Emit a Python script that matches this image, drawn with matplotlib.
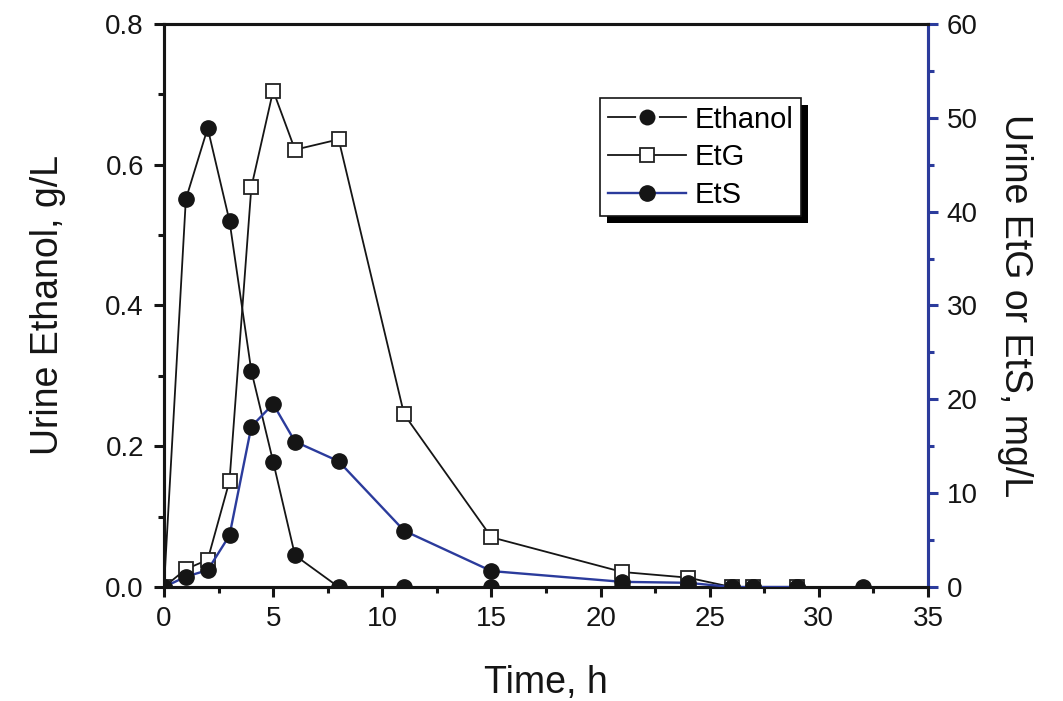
import numpy as np
import matplotlib.pyplot as plt
from matplotlib.ticker import MultipleLocator
from matplotlib.lines import Line2D
import matplotlib.patheffects as pe

plt.rcParams['font.family'] = ['Liberation Sans', 'DejaVu Sans']

# time points, h
t_eth = [0, 1, 2, 3, 4, 5, 6, 8, 11, 15, 21, 24, 26, 27, 29, 32]
ethanol = [0, 0.551, 0.652, 0.52, 0.307, 0.178, 0.045, 0, 0, 0, 0, 0, 0, 0, 0, 0]

t_met = [0, 1, 2, 3, 4, 5, 6, 8, 11, 15, 21, 24, 26, 27, 29]
etg = [0, 1.9, 2.9, 11.3, 42.6, 52.9, 46.6, 47.7, 18.4, 5.3, 1.6, 1.0, 0, 0, 0]
ets = [0, 1.1, 1.8, 5.5, 17.1, 19.5, 15.5, 13.4, 6.0, 1.7, 0.55, 0.45, 0, 0, 0]

blue = '#2b3b9c'
dark = '#151515'

fig = plt.figure(figsize=(10.63, 7.01), dpi=100)
ax = fig.add_axes([0.1543, 0.1626, 0.873 - 0.1543, 0.9658 - 0.1626])
ax2 = ax.twinx()

l1, = ax.plot(t_eth, ethanol, '-', color=dark, lw=1.3, marker='o', ms=11,
              mfc=dark, mec=dark, zorder=3)
l2, = ax2.plot(t_met, etg, '-', color=dark, lw=1.3, marker='s', ms=9.5,
               mfc='white', mec='#222222', mew=1.3, zorder=3)
l3, = ax2.plot(t_met, ets, '-', color=blue, lw=1.7, marker='o', ms=11,
               mfc=dark, mec=dark, zorder=4)

ax.set_xlim(0, 35)
ax.set_ylim(0, 0.8)
ax2.set_ylim(0, 60)

ax.xaxis.set_major_locator(MultipleLocator(5))
ax.xaxis.set_minor_locator(MultipleLocator(2.5))
ax.yaxis.set_major_locator(MultipleLocator(0.2))
ax.yaxis.set_minor_locator(MultipleLocator(0.1))
ax2.yaxis.set_major_locator(MultipleLocator(10))
ax2.yaxis.set_minor_locator(MultipleLocator(5))
ax.yaxis.set_major_formatter(plt.FormatStrFormatter('%.1f'))

for a in (ax, ax2):
    for s in a.spines.values():
        s.set_linewidth(2.2)
        s.set_color(dark)
ax2.spines['right'].set_color(blue)

ax.tick_params(which='major', direction='out', length=7.5, width=2.2, labelsize=20,
               colors=dark)
ax.tick_params(which='minor', direction='out', length=4.5, width=2.2, colors=dark)
ax.tick_params(axis='x', pad=6)
ax.tick_params(axis='y', pad=7)
ax2.tick_params(which='major', direction='out', length=7.5, width=2.2, labelsize=20,
                colors=blue, labelcolor=dark, pad=6)
ax2.tick_params(which='minor', direction='out', length=4.5, width=2.2, colors=blue)

ax.set_xlabel('Time, h', fontsize=27, labelpad=24, color=dark)
ax.set_ylabel('Urine Ethanol, g/L', fontsize=27, labelpad=28, color=dark)
ax2.set_ylabel('Urine EtG or EtS, mg/L', fontsize=27, rotation=270, labelpad=40,
               color=dark)

# legend: ethanol symbol drawn with a small gap around the dot
h1 = Line2D([], [], color=dark, lw=1.3, marker='o', ms=14, mfc=dark,
            mec='white', mew=2.5)
leg = ax2.legend([h1, l2, l3], ['Ethanol', 'EtG', 'EtS'], loc='upper left',
                 bbox_to_anchor=(0.571, 0.868), borderaxespad=0, fontsize=21,
                 frameon=True, fancybox=False, edgecolor=dark,
                 handlelength=2.7, borderpad=0.25, labelspacing=0.33,
                 handletextpad=0.3)
frame = leg.get_frame()
frame.set_linewidth(1.2)
frame.set_alpha(1)
frame.set_path_effects([pe.SimplePatchShadow(offset=(5, -5), shadow_rgbFace='black',
                                             alpha=1), pe.Normal()])

fig.savefig('out.png', dpi=100)
